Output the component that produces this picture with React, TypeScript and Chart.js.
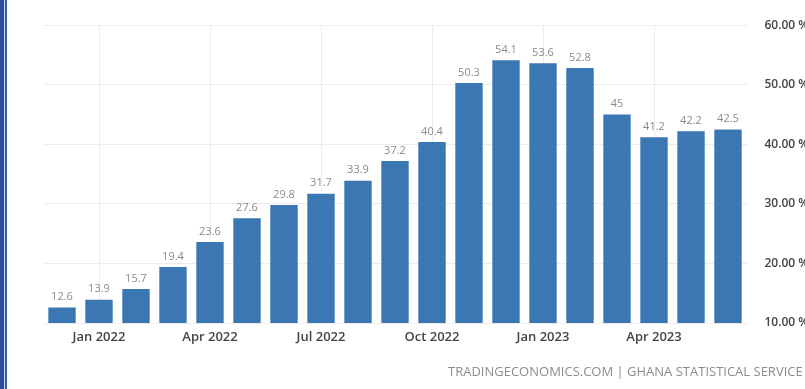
import React, { useEffect, useRef } from "react";
import { Chart, registerables } from "chart.js";

Chart.register(...registerables);

const months: string[] = [
  "Dec 2021", "Jan 2022", "Feb 2022", "Mar 2022", "Apr 2022", "May 2022", "Jun 2022",
  "Jul 2022", "Aug 2022", "Sep 2022", "Oct 2022", "Nov 2022", "Dec 2022",
  "Jan 2023", "Feb 2023", "Mar 2023", "Apr 2023", "May 2023", "Jun 2023",
];
const inflation: number[] = [
  12.6, 13.9, 15.7, 19.4, 23.6, 27.6, 29.8, 31.7, 33.9, 37.2, 40.4, 50.3, 54.1, 53.6, 52.8, 45, 41.2, 42.2, 42.5,
];
const shownTicks: string[] = ["Jan 2022", "Apr 2022", "Jul 2022", "Oct 2022", "Jan 2023", "Apr 2023"];
const yMin = 10;
const yMax = 60;
const yStep = 10;
const sourceText = "TRADINGECONOMICS.COM | GHANA STATISTICAL SERVICE";

const W = 805;
const H = 389;
const FONT = "'Open Sans', 'DejaVu Sans', sans-serif";

const valueLabels = {
  id: "valueLabels",
  afterDatasetsDraw(chart: any) {
    const ctx = chart.ctx;
    const meta = chart.getDatasetMeta(0);
    ctx.save();
    ctx.font = `11px ${FONT}`;
    ctx.fillStyle = "#8a8a8a";
    ctx.textAlign = "center";
    ctx.textBaseline = "bottom";
    meta.data.forEach((bar: any, i: number) => {
      const v = chart.data.datasets[0].data[i];
      ctx.fillText(String(v), bar.x, bar.y - 5);
    });
    ctx.restore();
  },
};

export default function App() {
  const ref = useRef<HTMLCanvasElement | null>(null);

  useEffect(() => {
    if (!ref.current) return;
    const chart = new Chart(ref.current, {
      type: "bar",
      data: {
        labels: months,
        datasets: [
          {
            data: inflation,
            backgroundColor: "#3a77b3",
            borderWidth: 0,
            categoryPercentage: 1,
            barPercentage: 0.74,
          },
        ],
      },
      options: {
        animation: false,
        responsive: false,
        maintainAspectRatio: false,
        layout: { padding: { left: 43.5, top: 22, right: 0, bottom: 0 } },
        plugins: {
          legend: { display: false },
          tooltip: { enabled: false },
        },
        scales: {
          x: {
            grid: {
              offset: false,
              drawTicks: false,
              color: (c: any) =>
                c.tick && shownTicks.includes(months[c.index]) ? "#ececec" : "rgba(0,0,0,0)",
            },
            border: { display: false },
            ticks: {
              autoSkip: false,
              maxRotation: 0,
              padding: 6,
              color: "#444",
              font: { family: FONT, size: 13, weight: "600" as any },
              callback: (_v: any, i: number) => (shownTicks.includes(months[i]) ? months[i] : ""),
            },
            afterFit: (s: any) => {
              s.height = H - 323;
            },
          },
          y: {
            position: "right",
            min: yMin,
            max: yMax,
            grid: { color: "#ececec", drawTicks: false },
            border: { display: false },
            ticks: {
              stepSize: yStep,
              padding: 18,
              color: "#444",
              font: { family: FONT, size: 12, weight: "600" as any },
              callback: (v: any) => `${Number(v).toFixed(2)} %`,
            },
            afterFit: (s: any) => {
              s.width = W - 746.5;
            },
          },
        },
      },
      plugins: [valueLabels],
    });
    return () => chart.destroy();
  }, []);

  return (
    <div style={{ position: "fixed", left: 0, top: 0, width: W, height: H, background: "#fff", overflow: "hidden" }}>
      <canvas ref={ref} width={W} height={H} style={{ position: "absolute", left: 0, top: 0 }} />
      <div style={{ position: "absolute", left: 0, top: 0, width: 4, height: H, background: "#2b4b9d" }} />
      <div style={{ position: "absolute", left: 4, top: 0, width: 1, height: H, background: "#c9d1ea" }} />
      <div style={{ position: "absolute", left: 5, top: 0, width: 2, height: H, background: "#3c5cab" }} />
      <div
        style={{
          position: "absolute",
          left: 448,
          top: 362,
          whiteSpace: "nowrap",
          fontFamily: FONT,
          fontSize: 13,
          color: "#8c8c8c",
          letterSpacing: 0,
        }}
      >
        {sourceText}
      </div>
    </div>
  );
}
